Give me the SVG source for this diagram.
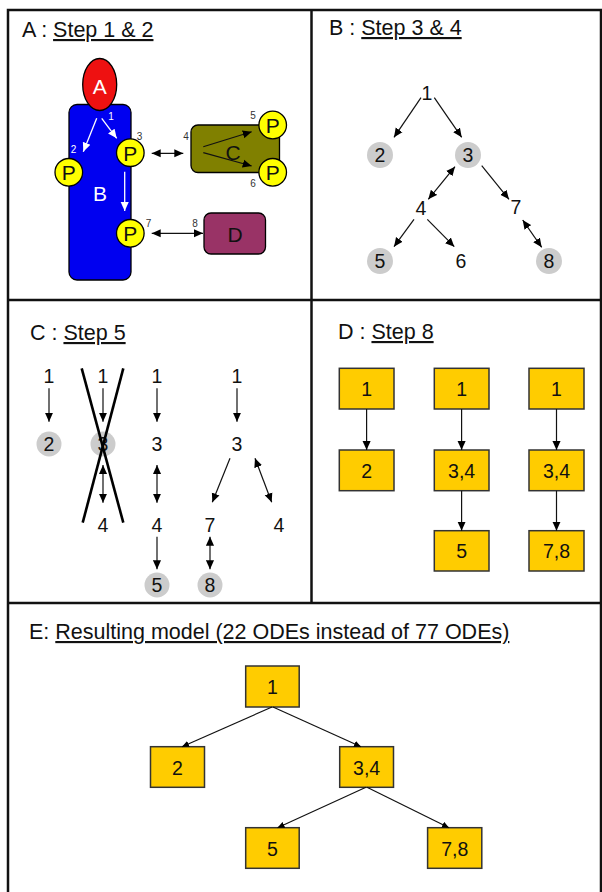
<svg xmlns="http://www.w3.org/2000/svg" width="602" height="892" viewBox="0 0 602 892">
<style>
text{font-family:"Liberation Sans",Arial,sans-serif;}
.title{font-size:21.5px;fill:#111;}
.lbl{font-size:19.5px;fill:#111;text-anchor:middle;}
.big{font-size:21px;text-anchor:middle;}
.sm{font-size:10px;text-anchor:middle;fill:#333;}
.smw{font-size:10px;text-anchor:middle;fill:#fff;}
.gray{fill:#cccccc;stroke:none;}
.pc{fill:#ffff00;stroke:#000;stroke-width:1.3;}
.box{fill:#ffcc00;stroke:#333;stroke-width:1.5;}
.ln{stroke:#111;stroke-width:1.2;fill:none;}
.wl{stroke:#fff;stroke-width:1.3;fill:none;}
.border{stroke:#111;stroke-width:2.5;fill:none;}
</style>
<defs>
<marker id="ah" viewBox="0 0 10 10" refX="10" refY="5" markerWidth="9" markerHeight="9" markerUnits="userSpaceOnUse" orient="auto-start-reverse"><path d="M0,0.5 L10,5 L0,9.5 z" fill="#000"/></marker>
<marker id="ahs" viewBox="0 0 10 10" refX="10" refY="5" markerWidth="7" markerHeight="7" markerUnits="userSpaceOnUse" orient="auto-start-reverse"><path d="M0,0.5 L10,5 L0,9.5 z" fill="#000"/></marker>
<marker id="ahw" viewBox="0 0 10 10" refX="10" refY="5" markerWidth="9" markerHeight="9" markerUnits="userSpaceOnUse" orient="auto-start-reverse"><path d="M0,0.5 L10,5 L0,9.5 z" fill="#fff"/></marker>
</defs>

<g id="frame">
<path class="border" d="M8,892 V10 H601 V892"/>
<line class="border" x1="311.5" y1="10" x2="311.5" y2="603"/>
<line class="border" x1="8" y1="300" x2="601" y2="300"/>
<line class="border" x1="8" y1="603" x2="601" y2="603"/>
</g>

<g id="titles">
<text class="title" x="22" y="37">A : <tspan text-decoration="underline">Step 1 &amp; 2</tspan></text>
<text class="title" x="329" y="35">B : <tspan text-decoration="underline">Step 3 &amp; 4</tspan></text>
<text class="title" x="30" y="340">C : <tspan text-decoration="underline">Step 5</tspan></text>
<text class="title" x="338" y="339">D : <tspan text-decoration="underline">Step 8</tspan></text>
<text class="title" x="29" y="639">E: <tspan text-decoration="underline">Resulting model (22 ODEs instead of 77 ODEs)</tspan></text>
</g>

<!-- Panel A -->
<g id="A-B">
<rect x="69" y="104.5" width="62" height="175.5" rx="8" fill="#0000f0" stroke="#000" stroke-width="1.3"/>
<text class="big" x="100" y="200.5" fill="#fff">B</text>
</g>
<g id="A-A">
<ellipse cx="99.7" cy="84.5" rx="17" ry="26" fill="#ee1111" stroke="#000" stroke-width="1.3"/>
<text class="big" x="99.7" y="93.5" fill="#fff">A</text>
</g>
<g id="A-C">
<rect x="191" y="125" width="88.5" height="47.5" rx="7" fill="#808000" stroke="#000" stroke-width="1.3"/>
<text class="big" x="233" y="160" font-size="23" fill="#111">C</text>
</g>
<g id="A-D">
<rect x="204" y="213" width="61.5" height="41" rx="7" fill="#993366" stroke="#000" stroke-width="1.3"/>
<text class="big" x="235" y="241.5" fill="#111">D</text>
</g>
<g id="A-P2"><circle class="pc" cx="68.8" cy="172.3" r="13.8"/><text class="big" x="68.8" y="180.3" font-size="22" fill="#111">P</text></g>
<g id="A-P3"><circle class="pc" cx="130.3" cy="152.7" r="13.8"/><text class="big" x="130.3" y="160.7" font-size="22" fill="#111">P</text></g>
<g id="A-P7"><circle class="pc" cx="130.3" cy="233.3" r="13.8"/><text class="big" x="130.3" y="241.3" font-size="22" fill="#111">P</text></g>
<g id="A-P5"><circle class="pc" cx="272.7" cy="125" r="13.8"/><text class="big" x="272.7" y="133" font-size="22" fill="#111">P</text></g>
<g id="A-P6"><circle class="pc" cx="272.7" cy="172.3" r="13.8"/><text class="big" x="272.7" y="180.3" font-size="22" fill="#111">P</text></g>
<g id="A-nums">
<text class="smw" x="111" y="120">1</text>
<text class="smw" x="73.5" y="153">2</text>
<text class="sm" x="139.5" y="139.5">3</text>
<text class="sm" x="186" y="139.5">4</text>
<text class="sm" x="253" y="118.5">5</text>
<text class="sm" x="253" y="187">6</text>
<text class="sm" x="148.5" y="226.5">7</text>
<text class="sm" x="195" y="226.5">8</text>
</g>

<!-- Panel B nodes -->
<g id="B-1"><text class="lbl" x="427" y="100">1</text></g>
<g id="B-2"><circle class="gray" cx="380" cy="155" r="13"/><text class="lbl" x="380" y="162">2</text></g>
<g id="B-3"><circle class="gray" cx="468" cy="155" r="13"/><text class="lbl" x="468" y="162">3</text></g>
<g id="B-4"><text class="lbl" x="421" y="215">4</text></g>
<g id="B-7"><text class="lbl" x="516" y="214">7</text></g>
<g id="B-5"><circle class="gray" cx="380" cy="261" r="13"/><text class="lbl" x="380" y="268">5</text></g>
<g id="B-6"><text class="lbl" x="461" y="268">6</text></g>
<g id="B-8"><circle class="gray" cx="549" cy="261" r="13"/><text class="lbl" x="549" y="268">8</text></g>

<!-- Panel C nodes -->
<g id="C-c1">
<text class="lbl" x="49" y="383">1</text>
<circle class="gray" cx="49" cy="444" r="12.5"/><text class="lbl" x="49" y="451">2</text>
</g>
<g id="C-c2">
<text class="lbl" x="103" y="383">1</text>
<circle class="gray" cx="103" cy="444" r="12.5"/><text class="lbl" x="103" y="451">3</text>
<text class="lbl" x="103" y="532">4</text>
</g>
<g id="C-c3">
<text class="lbl" x="157" y="383">1</text>
<text class="lbl" x="157" y="451">3</text>
<text class="lbl" x="157" y="532">4</text>
<circle class="gray" cx="157" cy="585" r="12.5"/><text class="lbl" x="157" y="592">5</text>
</g>
<g id="C-c4">
<text class="lbl" x="237" y="383">1</text>
<text class="lbl" x="237" y="451">3</text>
<text class="lbl" x="210" y="532">7</text>
<text class="lbl" x="279" y="532">4</text>
<circle class="gray" cx="210" cy="585" r="12.5"/><text class="lbl" x="210" y="592">8</text>
</g>

<!-- Panel D nodes -->
<g id="D-1a"><rect class="box" x="339.3" y="368.3" width="54.7" height="40.7"/><text class="lbl" font-size="20.5" x="366.6" y="396">1</text></g>
<g id="D-2"><rect class="box" x="339.3" y="450" width="54.7" height="40.7"/><text class="lbl" font-size="20.5" x="366.6" y="477.5">2</text></g>
<g id="D-1b"><rect class="box" x="434.3" y="368.3" width="54.7" height="40.7"/><text class="lbl" font-size="20.5" x="461.6" y="396">1</text></g>
<g id="D-34a"><rect class="box" x="434.3" y="450" width="54.7" height="40.7"/><text class="lbl" font-size="20.5" x="461.6" y="477.5">3,4</text></g>
<g id="D-5"><rect class="box" x="434.3" y="530.7" width="54.7" height="40.3"/><text class="lbl" font-size="20.5" x="461.6" y="558">5</text></g>
<g id="D-1c"><rect class="box" x="529" y="368.3" width="55" height="40.7"/><text class="lbl" font-size="20.5" x="556.5" y="396">1</text></g>
<g id="D-34b"><rect class="box" x="529" y="450" width="55" height="40.7"/><text class="lbl" font-size="20.5" x="556.5" y="477.5">3,4</text></g>
<g id="D-78"><rect class="box" x="529" y="530.7" width="55" height="40.3"/><text class="lbl" font-size="20.5" x="556.5" y="558">7,8</text></g>

<!-- Panel E nodes -->
<g id="E-1"><rect class="box" x="245.7" y="666" width="53.5" height="41"/><text class="lbl" font-size="21" x="272.5" y="694">1</text></g>
<g id="E-2"><rect class="box" x="150.5" y="746.7" width="54" height="40.6"/><text class="lbl" font-size="21" x="177.5" y="774.5">2</text></g>
<g id="E-34"><rect class="box" x="339.7" y="746.7" width="53.8" height="40.6"/><text class="lbl" font-size="21" x="366.6" y="774.5">3,4</text></g>
<g id="E-5"><rect class="box" x="245.7" y="827.7" width="53.5" height="40.6"/><text class="lbl" font-size="21" x="272.5" y="855.5">5</text></g>
<g id="E-78"><rect class="box" x="427.6" y="827.7" width="54.2" height="40.6"/><text class="lbl" font-size="21" x="454.7" y="855.5">7,8</text></g>

<g id="connectors">
<!-- A -->
<line class="wl" x1="96.7" y1="118.3" x2="83.3" y2="151.7" marker-end="url(#ahw)"/>
<line class="wl" x1="101.7" y1="118.3" x2="116.7" y2="138.3" marker-end="url(#ahw)"/>
<line class="wl" x1="124.7" y1="171.7" x2="124.7" y2="211" marker-end="url(#ahw)"/>
<line class="ln" x1="151.7" y1="153.3" x2="183.3" y2="153.3" marker-start="url(#ah)" marker-end="url(#ah)"/>
<line class="ln" x1="151.7" y1="233.3" x2="203" y2="233.3" marker-start="url(#ah)" marker-end="url(#ah)"/>
<line class="ln" x1="203.3" y1="146.7" x2="251.7" y2="131.7" marker-end="url(#ah)"/>
<line class="ln" x1="203.3" y1="152.7" x2="251.7" y2="166" marker-end="url(#ah)"/>
<!-- B -->
<line class="ln" x1="421" y1="97.7" x2="394" y2="137.3" marker-end="url(#ah)"/>
<line class="ln" x1="434.3" y1="97.7" x2="461.7" y2="137.3" marker-end="url(#ah)"/>
<line class="ln" x1="455" y1="166.7" x2="428.3" y2="199.3" marker-start="url(#ah)" marker-end="url(#ah)"/>
<line class="ln" x1="481.7" y1="165.7" x2="509" y2="199.3" marker-end="url(#ah)"/>
<line class="ln" x1="414" y1="219.3" x2="394" y2="246.7" marker-end="url(#ah)"/>
<line class="ln" x1="427.3" y1="219.3" x2="454.3" y2="246.7" marker-end="url(#ah)"/>
<line class="ln" x1="522.7" y1="220" x2="541.7" y2="247.3" marker-start="url(#ah)" marker-end="url(#ah)"/>
<!-- C -->
<line class="ln" x1="49" y1="388.3" x2="49" y2="421.7" marker-end="url(#ah)"/>
<line class="ln" x1="103" y1="388.3" x2="103" y2="421.7" marker-end="url(#ah)"/>
<line class="ln" x1="103" y1="465" x2="103" y2="502.7" marker-start="url(#ah)" marker-end="url(#ah)"/>
<line class="ln" x1="157" y1="388.3" x2="157" y2="421.7" marker-end="url(#ah)"/>
<line class="ln" x1="157" y1="465" x2="157" y2="502.7" marker-start="url(#ah)" marker-end="url(#ah)"/>
<line class="ln" x1="157" y1="536.7" x2="157" y2="569.3" marker-end="url(#ah)"/>
<line class="ln" x1="237" y1="388.3" x2="237" y2="421.7" marker-end="url(#ah)"/>
<line class="ln" x1="230" y1="458.3" x2="212.3" y2="502.3" marker-end="url(#ah)"/>
<line class="ln" x1="255" y1="458.3" x2="271.7" y2="502.3" marker-start="url(#ah)" marker-end="url(#ah)"/>
<line class="ln" x1="210" y1="536.7" x2="210" y2="569.3" marker-start="url(#ah)" marker-end="url(#ah)"/>
<line x1="81.7" y1="368.3" x2="123.3" y2="522.7" stroke="#000" stroke-width="2.6"/>
<line x1="123.3" y1="368.3" x2="82.7" y2="522.7" stroke="#000" stroke-width="2.6"/>
<!-- D -->
<line class="ln" x1="366.6" y1="409" x2="366.6" y2="450" marker-end="url(#ah)"/>
<line class="ln" x1="461.6" y1="409" x2="461.6" y2="450" marker-end="url(#ah)"/>
<line class="ln" x1="461.6" y1="490.7" x2="461.6" y2="530.7" marker-end="url(#ah)"/>
<line class="ln" x1="556.5" y1="409" x2="556.5" y2="450" marker-end="url(#ah)"/>
<line class="ln" x1="556.5" y1="490.7" x2="556.5" y2="530.7" marker-end="url(#ah)"/>
<!-- E -->
<line class="ln" x1="272" y1="707" x2="182" y2="746.7" marker-end="url(#ahs)"/>
<line class="ln" x1="273" y1="707" x2="361" y2="746.7" marker-end="url(#ahs)"/>
<line class="ln" x1="366" y1="787.3" x2="277.5" y2="827.7" marker-end="url(#ahs)"/>
<line class="ln" x1="367" y1="787.3" x2="449" y2="827.7" marker-end="url(#ahs)"/>
</g>
</svg>
